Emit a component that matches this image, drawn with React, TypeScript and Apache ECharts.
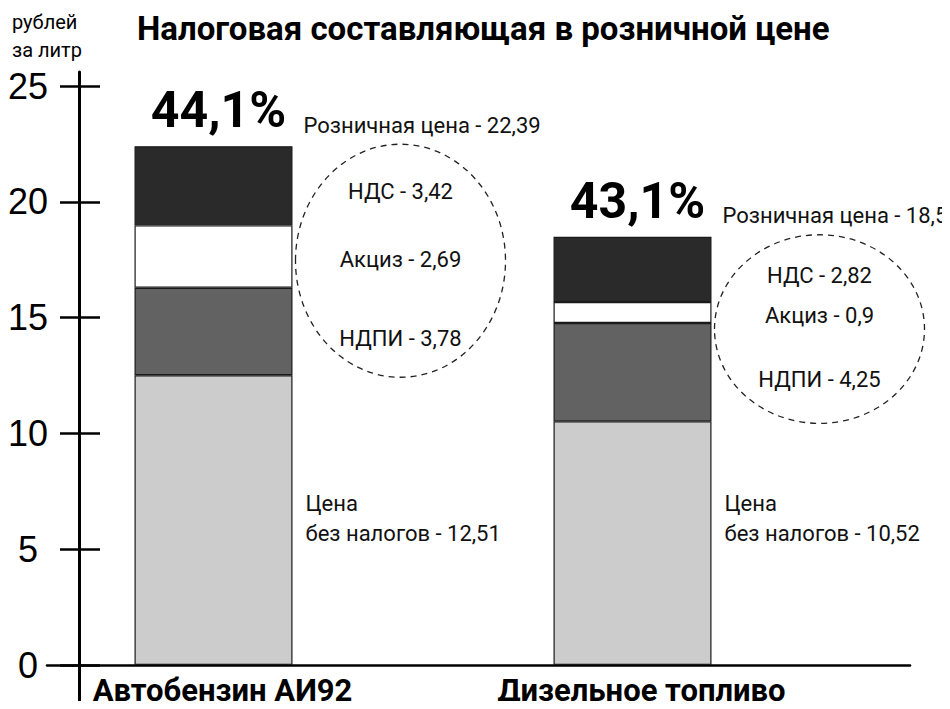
import React, { useEffect, useRef } from "react";
import * as echarts from "echarts";

const categories = ["Автобензин АИ92", "Дизельное топливо"];
const basePrice = [12.51, 10.52];
const ndpi = [3.78, 4.25];
const excise = [2.69, 0.9];
const vat = [3.42, 2.82];
const retailPrice = [22.39, 18.5];
const taxShare = [44.1, 43.1];
const yTicks = { min: 0, max: 25, interval: 5 };

const NARROW = 'Roboto, "Liberation Sans", sans-serif';
const REG = '"Liberation Sans", Arial, sans-serif';

const fmt = (v: number) => String(v).replace(".", ",");

export default function App() {
  const ref = useRef<HTMLDivElement>(null);
  useEffect(() => {
    if (!ref.current) return;
    const chart = echarts.init(ref.current, undefined, { renderer: "svg" });
    const stackTop = basePrice.map((b, i) => b + ndpi[i] + excise[i] + vat[i]);
    const border = { borderColor: "#1a1a1a", borderWidth: 1.2 };
    const taxLabel = (name: string, dy: number) => ({
      show: true,
      position: ["100%", "50%"],
      offset: [108, dy],
      align: "center",
      verticalAlign: "middle",
      fontFamily: NARROW,
      fontSize: 22,
      color: "#111",
      formatter: (p: any) => `${name} - ${fmt(p.value)}`,
    });
    chart.setOption({
      animation: false,
      backgroundColor: "#fff",
      title: [
        {
          text: "Налоговая составляющая в розничной цене",
          left: 137,
          top: 12,
          padding: 0,
          textStyle: { fontFamily: NARROW, fontWeight: "bold", fontSize: 33, color: "#000" },
        },
        {
          text: "рублей\nза литр",
          left: 12,
          top: 8,
          padding: 0,
          textStyle: { fontFamily: NARROW, fontWeight: "normal", fontSize: 20, lineHeight: 28, color: "#000" },
        },
      ],
      grid: [
        { left: 4, width: 838, top: 86, bottom: 44 },
        { left: 47, right: 40, top: 86, bottom: 44 },
        { left: 47, right: 40, top: 72, bottom: 4 },
      ],
      xAxis: [
        {
          type: "category",
          gridIndex: 0,
          data: categories,
          axisLine: { show: false },
          axisTick: { show: false },
          axisLabel: {
            interval: 0,
            margin: 10,
            fontFamily: NARROW,
            fontWeight: "bold",
            fontSize: 31,
            color: "#000",
            padding: [0, 0, 0, 18],
          },
        },
        {
          type: "value",
          gridIndex: 1,
          min: 0,
          max: 1,
          axisLine: { show: true, lineStyle: { color: "#000", width: 2.5 } },
          axisTick: { show: false },
          axisLabel: { show: false },
          splitLine: { show: false },
        },
        {
          type: "value",
          gridIndex: 2,
          min: 0,
          max: 1,
          show: false,
        },
      ],
      yAxis: [
        { type: "value", gridIndex: 0, min: yTicks.min, max: yTicks.max, show: false },
        {
          type: "value",
          gridIndex: 1,
          position: "left",
          min: yTicks.min,
          max: yTicks.max,
          interval: yTicks.interval,
          offset: -32,
          axisLine: { show: false },
          axisTick: { show: true, inside: false, length: 19, lineStyle: { color: "#000", width: 2.5 } },
          axisLabel: { margin: 51, align: "center", fontFamily: REG, fontSize: 36, color: "#000" },
          splitLine: { show: false },
        },
        {
          type: "value",
          gridIndex: 1,
          position: "left",
          min: yTicks.min,
          max: yTicks.max,
          interval: yTicks.interval,
          offset: -32,
          axisLine: { show: false },
          axisTick: { show: true, inside: true, length: 21, lineStyle: { color: "#000", width: 2.5 } },
          axisLabel: { show: false },
          splitLine: { show: false },
        },
        {
          type: "value",
          gridIndex: 2,
          position: "left",
          min: 0,
          max: 1,
          offset: -32,
          axisLine: { show: true, lineStyle: { color: "#000", width: 3 } },
          axisTick: { show: false },
          axisLabel: { show: false },
          splitLine: { show: false },
        },
      ],
      series: [
        {
          name: "Цена без налогов",
          type: "bar",
          stack: "total",
          barWidth: 158,
          xAxisIndex: 0,
          yAxisIndex: 0,
          data: basePrice,
          itemStyle: { color: "#cccccc", ...border },
          label: {
            show: true,
            position: ["100%", "100%"],
            offset: [13, -147],
            align: "left",
            verticalAlign: "middle",
            lineHeight: 30,
            fontFamily: NARROW,
            fontSize: 22,
            color: "#111",
            formatter: (p: any) => `Цена\nбез налогов - ${fmt(p.value)}`,
          },
        },
        {
          name: "НДПИ",
          type: "bar",
          stack: "total",
          xAxisIndex: 0,
          yAxisIndex: 0,
          data: ndpi,
          itemStyle: { color: "#626262", ...border },
          label: taxLabel("НДПИ", 7),
        },
        {
          name: "Акциз",
          type: "bar",
          stack: "total",
          xAxisIndex: 0,
          yAxisIndex: 0,
          data: excise,
          itemStyle: { color: "#ffffff", ...border },
          label: taxLabel("Акциз", 3),
        },
        {
          name: "НДС",
          type: "bar",
          stack: "total",
          xAxisIndex: 0,
          yAxisIndex: 0,
          data: vat,
          itemStyle: { color: "#2a2a2a", ...border },
          label: taxLabel("НДС", 6),
          markPoint: {
            symbol: "circle",
            symbolSize: 1,
            itemStyle: { color: "transparent" },
            silent: true,
            data: [
              ...taxShare.map((v, i) => ({
                coord: [i, stackTop[i]],
                value: v,
                label: {
                  show: true,
                  position: "inside",
                  offset: [5, -36],
                  fontFamily: NARROW,
                  fontWeight: "bold",
                  fontSize: 50,
                  color: "#000",
                  formatter: (p: any) => `${fmt(p.value)}%`,
                },
              })),
              ...retailPrice.map((v, i) => ({
                coord: [i, stackTop[i]],
                value: v,
                label: {
                  show: true,
                  position: "inside",
                  offset: [90, -21],
                  align: "left",
                  verticalAlign: "middle",
                  fontFamily: NARROW,
                  fontSize: 22,
                  color: "#111",
                  formatter: (p: any) => `Розничная цена - ${fmt(p.value)}`,
                },
              })),
            ],
          },
        },
        {
          type: "custom",
          xAxisIndex: 0,
          yAxisIndex: 0,
          silent: true,
          z: 1,
          data: basePrice.map((b, i) => [i, b, stackTop[i]]),
          renderItem: (params: any, api: any) => {
            const x = api.coord([api.value(0), 0])[0];
            const lo = api.coord([api.value(0), api.value(1)])[1];
            const hi = api.coord([api.value(0), api.value(2)])[1];
            return {
              type: "ellipse",
              shape: { cx: x + 187, cy: (lo + hi) / 2, rx: 105, ry: (lo - hi) / 2 + 2 },
              style: { fill: "none", stroke: "#222", lineWidth: 1.3, lineDash: [6, 5] },
            };
          },
        },
      ],
    });
    return () => chart.dispose();
  }, []);
  return <div ref={ref} style={{ width: 950, height: 709, margin: -8 }} />;
}
